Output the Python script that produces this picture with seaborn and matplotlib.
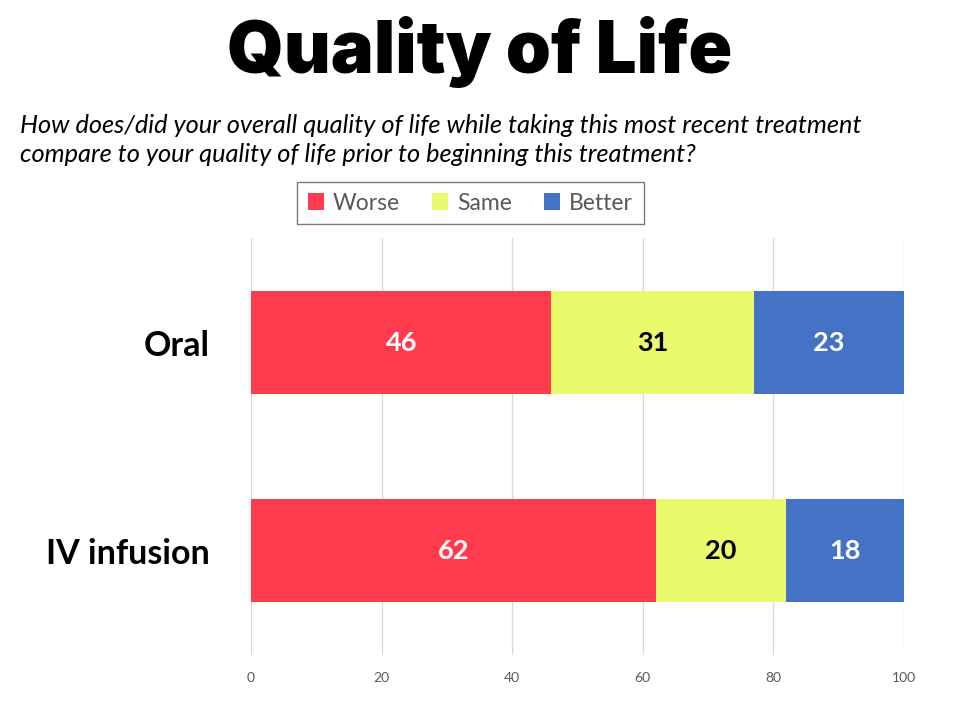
import pandas as pd
import numpy as np
import seaborn as sns
import matplotlib.pyplot as plt
from matplotlib.patches import Patch

categories = ['Oral', 'IV infusion']
worse = [46, 62]
same = [31, 20]
better = [23, 18]
series_names = ['Worse', 'Same', 'Better']
series_colors = ['#FF3B4D', '#E9FB6C', '#4472C4']
label_colors = ['white', 'black', 'white']
x_ticks = [0, 20, 40, 60, 80, 100]

sns.set_theme(style='white')
plt.rcParams['font.family'] = ['Lato', 'DejaVu Sans']
plt.rcParams['text.color'] = 'black'

fig = plt.figure(figsize=(9.6, 7.2), dpi=100)
ax = fig.add_axes([0.2615, 0.0903, 0.68, 0.5785])

df = pd.DataFrame({'category': categories, 'Worse': worse, 'Same': same, 'Better': better})
cum = df[series_names].cumsum(axis=1)

# draw cumulative totals from back to front so the segments stack
for name, color in reversed(list(zip(series_names, series_colors))):
    sns.barplot(data=cum.assign(category=df['category']), x=name, y='category',
                color=color, width=0.495, saturation=1, linewidth=0,
                ax=ax, zorder=2)

for i, cat in enumerate(categories):
    left = 0
    for name, tcolor in zip(series_names, label_colors):
        v = df.loc[i, name]
        ax.text(left + v / 2, i, str(v), ha='center', va='center',
                fontsize=19.5, fontweight='bold', color=tcolor, zorder=3)
        left += v

ax.set_xlim(0, 100)
ax.set_ylim(1.5, -0.5)
ax.set_xticks(x_ticks)
ax.set_xticklabels([str(t) for t in x_ticks], fontsize=10, color='#595959')
ax.tick_params(axis='x', length=0, pad=12)
ax.tick_params(axis='y', length=0, pad=30)
ax.set_yticks(range(len(categories)))
ax.set_yticklabels(categories, fontsize=24.5, fontweight='bold', color='black')
ax.set_xlabel('')
ax.set_ylabel('')
ax.grid(axis='x', color='#D9D9D9', linewidth=0.9, zorder=0)
ax.grid(axis='y', visible=False)
ax.set_axisbelow(True)
for s in ax.spines.values():
    s.set_visible(False)

fig.text(0.5, 0.928, 'Quality of Life', ha='center', va='center', color='black',
         fontsize=52, fontweight='black', family=['Inter', 'DejaVu Sans'])
fig.text(0.021, 0.806, 'How does/did your overall quality of life while taking this most recent treatment\n'
         'compare to your quality of life prior to beginning this treatment?',
         ha='left', va='center', fontsize=18.3, style='italic', color='black',
         linespacing=1.3)

handles = [Patch(facecolor=c, edgecolor='none') for c in series_colors]
leg = fig.legend(handles, series_names, loc='center', bbox_to_anchor=(0.49, 0.718),
                 ncol=3, frameon=True, fancybox=False, fontsize=16.5,
                 handlelength=0.7, handleheight=0.7, handletextpad=0.4,
                 columnspacing=1.4, borderpad=0.45, borderaxespad=0)
leg.get_frame().set_edgecolor('#595959')
leg.get_frame().set_linewidth(1.0)
for t in leg.get_texts():
    t.set_color('#595959')

fig.savefig('out.png', dpi=100)
plt.close()
